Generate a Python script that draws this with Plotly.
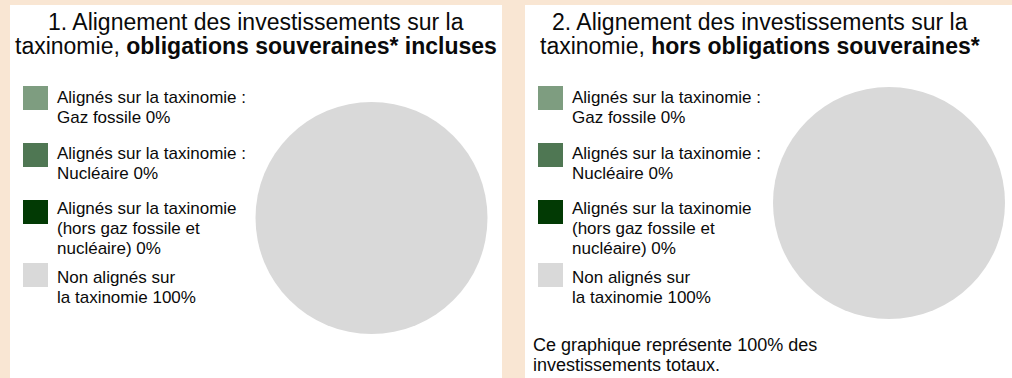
import plotly.graph_objects as go

# Taxonomy alignment categories (line breaks as drawn in the key)
categories = [
    "Alignés sur la taxinomie :<br>Gaz fossile",
    "Alignés sur la taxinomie :<br>Nucléaire",
    "Alignés sur la taxinomie<br>(hors gaz fossile et<br>nucléaire)",
    "Non alignés sur<br>la taxinomie",
]
colors = ["#7E9D80", "#4F7753", "#023A04", "#D9D9D9"]

# Share of investments (%) per panel
incl_sovereign = [0, 0, 0, 100]
excl_sovereign = [0, 0, 0, 100]

titles = [
    ["1. Alignement des investissements sur la",
     "taxinomie, <b>obligations souveraines* incluses</b>"],
    ["2. Alignement des investissements sur la",
     "taxinomie, <b>hors obligations souveraines*</b>"],
]
footnote = ["Ce graphique représente 100% des", "investissements totaux."]

W, H = 1012, 378
FONT = "Liberation Sans, Arial, sans-serif"
BG = "#F9E6D3"
INK = "#0A0A0A"


def px(x):
    return x / W


def py(y):
    return 1 - y / H


fig = go.Figure()

panels = [
    dict(left=10, right=502, values=incl_sovereign, cx=371.5, cy=218, r=116, tx=256),
    dict(left=525, right=1012, values=excl_sovereign, cx=889, cy=203, r=116, tx=760),
]

shapes = []
annotations = []

title_base = [30, 54]
square_tops = [86, 143, 200, 263]
line_bases = [[103, 123], [159, 179], [214, 234, 254], [283, 303]]

for n, p in enumerate(panels):
    shapes.append(dict(type="rect", xref="paper", yref="paper",
                       x0=px(p["left"]), x1=px(p["right"]),
                       y0=py(H), y1=py(5),
                       fillcolor="white", line=dict(width=0), layer="below"))

    fig.add_trace(go.Pie(
        labels=categories, values=p["values"], sort=False,
        marker=dict(colors=colors, line=dict(width=0)),
        textinfo="none", hoverinfo="label+percent", showlegend=False,
        domain=dict(x=[px(p["cx"] - p["r"]), px(p["cx"] + p["r"])],
                    y=[py(p["cy"] + p["r"]), py(p["cy"] - p["r"])]),
    ))

    for i, line in enumerate(titles[n]):
        annotations.append(dict(
            text=line, xref="paper", yref="paper",
            x=px(p["tx"]), y=py(title_base[i] - 0.35 * 23),
            xanchor="center", yanchor="middle", showarrow=False,
            font=dict(family=FONT, size=23, color=INK)))

    # colour key
    for k, cat in enumerate(categories):
        top = square_tops[k]
        shapes.append(dict(type="rect", xref="paper", yref="paper",
                           x0=px(p["left"] + 13), x1=px(p["left"] + 38),
                           y0=py(top + 24), y1=py(top),
                           fillcolor=colors[k], line=dict(width=0)))
        label = f"{cat} {p['values'][k]}%"
        for j, line in enumerate(label.split("<br>")):
            annotations.append(dict(
                text=line, xref="paper", yref="paper",
                x=px(p["left"] + 45), y=py(line_bases[k][j] - 0.35 * 17),
                xanchor="left", yanchor="middle", showarrow=False,
                font=dict(family=FONT, size=17, color=INK)))

for j, line in enumerate(footnote):
    annotations.append(dict(
        text=line, xref="paper", yref="paper",
        x=px(531), y=py([351, 371][j] - 0.35 * 18),
        xanchor="left", yanchor="middle", showarrow=False,
        font=dict(family=FONT, size=18, color=INK)))

fig.update_layout(
    width=W, height=H,
    margin=dict(l=0, r=0, t=0, b=0),
    paper_bgcolor=BG, plot_bgcolor=BG,
    shapes=shapes, annotations=annotations,
)

fig.write_html("out.html")
